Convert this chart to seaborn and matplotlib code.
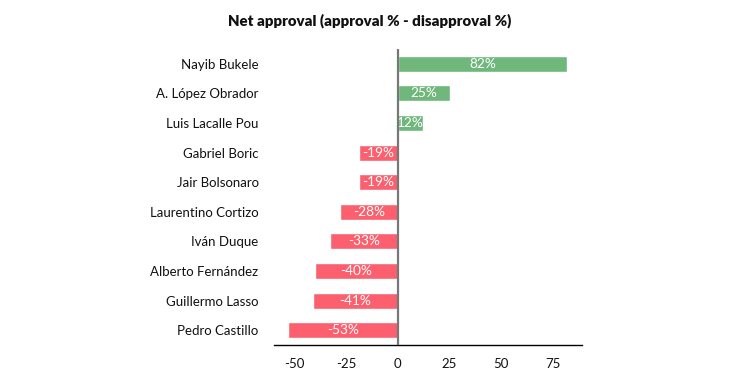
import matplotlib
matplotlib.use("Agg")
import matplotlib.pyplot as plt
import seaborn as sns
import pandas as pd

leaders = ["Nayib Bukele", "A. López Obrador", "Luis Lacalle Pou", "Gabriel Boric",
           "Jair Bolsonaro", "Laurentino Cortizo", "Iván Duque", "Alberto Fernández",
           "Guillermo Lasso", "Pedro Castillo"]
net_approval = [82, 25, 12, -19, -19, -28, -33, -40, -41, -53]
xticks = [-50, -25, 0, 25, 50, 75]

GREEN = "#70b77c"
RED = "#fc5f6d"

sns.set_theme(style="white")
plt.rcParams['font.family'] = ['Lato', 'DejaVu Sans']

df = pd.DataFrame({"leader": leaders, "net": net_approval})
df["sign"] = ["pos" if v >= 0 else "neg" for v in df["net"]]

fig = plt.figure(figsize=(7.46, 3.79), dpi=100)
ax = fig.add_axes([0.367, 0.0897, 0.413, 0.7813])

sns.barplot(data=df, y="leader", x="net", hue="sign", order=leaders,
            palette={"pos": GREEN, "neg": RED}, dodge=False, width=0.54,
            legend=False, ax=ax, saturation=1)

for cont in ax.containers:
    labels = [f"{v:.0f}%" for v in cont.datavalues]
    ax.bar_label(cont, labels=labels, label_type="center", color="white", fontsize=9.8)

ax.axvline(0, color="#777777", linewidth=1.6, zorder=3)
ax.set_xlim(-60, 89)
ax.set_ylim(9.5, -0.5)
ax.set_xticks(xticks)
ax.set_xticklabels([str(t) for t in xticks], fontsize=9.5, color="#111111")
ax.tick_params(axis="y", labelsize=9.5, labelcolor="#111111", length=0, pad=11)
ax.tick_params(axis="x", length=0, pad=9)
ax.set_xlabel("")
ax.set_ylabel("")
for s in ["top", "right", "left"]:
    ax.spines[s].set_visible(False)
ax.spines["bottom"].set_color("black")
ax.spines["bottom"].set_linewidth(1.0)

fig.suptitle("Net approval (approval % - disapproval %)", x=0.495, y=0.965,
             fontsize=10.8, fontweight="heavy", color="#111111")

fig.savefig("out.png", dpi=100)
